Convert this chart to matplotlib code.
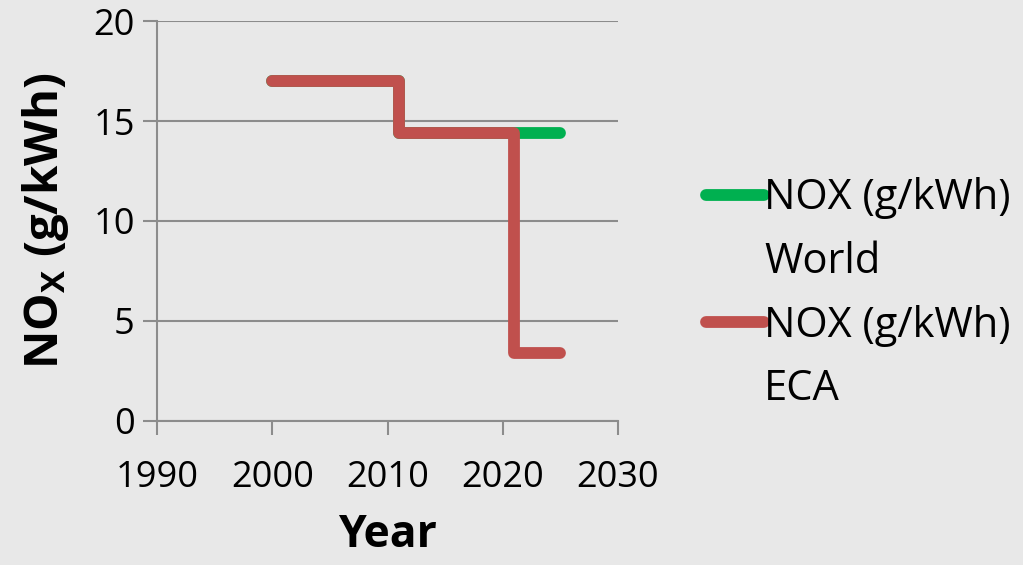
import matplotlib.pyplot as plt
from matplotlib.lines import Line2D

# step data
years_world = [2000, 2011, 2011, 2025]
nox_world = [17, 17, 14.4, 14.4]
years_eca = [2000, 2011, 2011, 2021, 2021, 2025]
nox_eca = [17, 17, 14.4, 14.4, 3.4, 3.4]

label_top = "NOX (g/kWh)"
label_world = "World"
label_eca = "ECA"

bg = "#e8e8e8"
grid_col = "#8c8c8c"
green = "#00b050"
red = "#c0504d"

plt.rcParams['font.family'] = ['Open Sans', 'DejaVu Sans']

fig = plt.figure(figsize=(10.23, 5.65), dpi=100, facecolor=bg)
ax = fig.add_axes([0.1535, 0.2549, 0.4506, 0.7079], facecolor=bg)

ax.plot(years_world, nox_world, color=green, lw=8.5,
        solid_capstyle="round", solid_joinstyle="round")
ax.plot(years_eca, nox_eca, color=red, lw=8.5,
        solid_capstyle="round", solid_joinstyle="round")

ax.set_xlim(1990, 2030)
ax.set_ylim(0, 20)
ax.set_xticks(range(1990, 2031, 10))
ax.set_yticks(range(0, 21, 5))
ax.grid(axis="y", color=grid_col, lw=1.5)
ax.set_axisbelow(True)
for s in ["top", "right"]:
    ax.spines[s].set_visible(False)
ax.spines["left"].set_color(grid_col)
ax.spines["left"].set_linewidth(1.5)
ax.spines["bottom"].set_color(grid_col)
ax.spines["bottom"].set_linewidth(1.5)
ax.tick_params(axis="x", direction="out", length=10, width=1.5,
               color=grid_col, labelsize=26, pad=18)
ax.tick_params(axis="y", direction="out", length=10, width=1.5,
               color=grid_col, labelsize=26, pad=6)
ax.set_xlabel("Year", fontsize=32, fontweight="bold", labelpad=12)
ax.set_ylabel("NO$_\\mathregular{X}$ (g/kWh)", fontsize=34,
              fontweight="bold", labelpad=16)

# legend: handle sits on the first text line of each entry
blank = Line2D([], [], color="none")
handles = [Line2D([], [], color=green, lw=8.5, solid_capstyle="round"), blank,
           Line2D([], [], color=red, lw=8.5, solid_capstyle="round"), blank]
labels = [label_top, label_world, label_top, label_eca]
ax.legend(handles, labels, loc="center left", bbox_to_anchor=(1.154, 0.318),
          frameon=False, fontsize=30, handlelength=1.4, handletextpad=0.0,
          labelspacing=0.52, borderaxespad=0)

fig.savefig("out.png", dpi=100, facecolor=bg)
